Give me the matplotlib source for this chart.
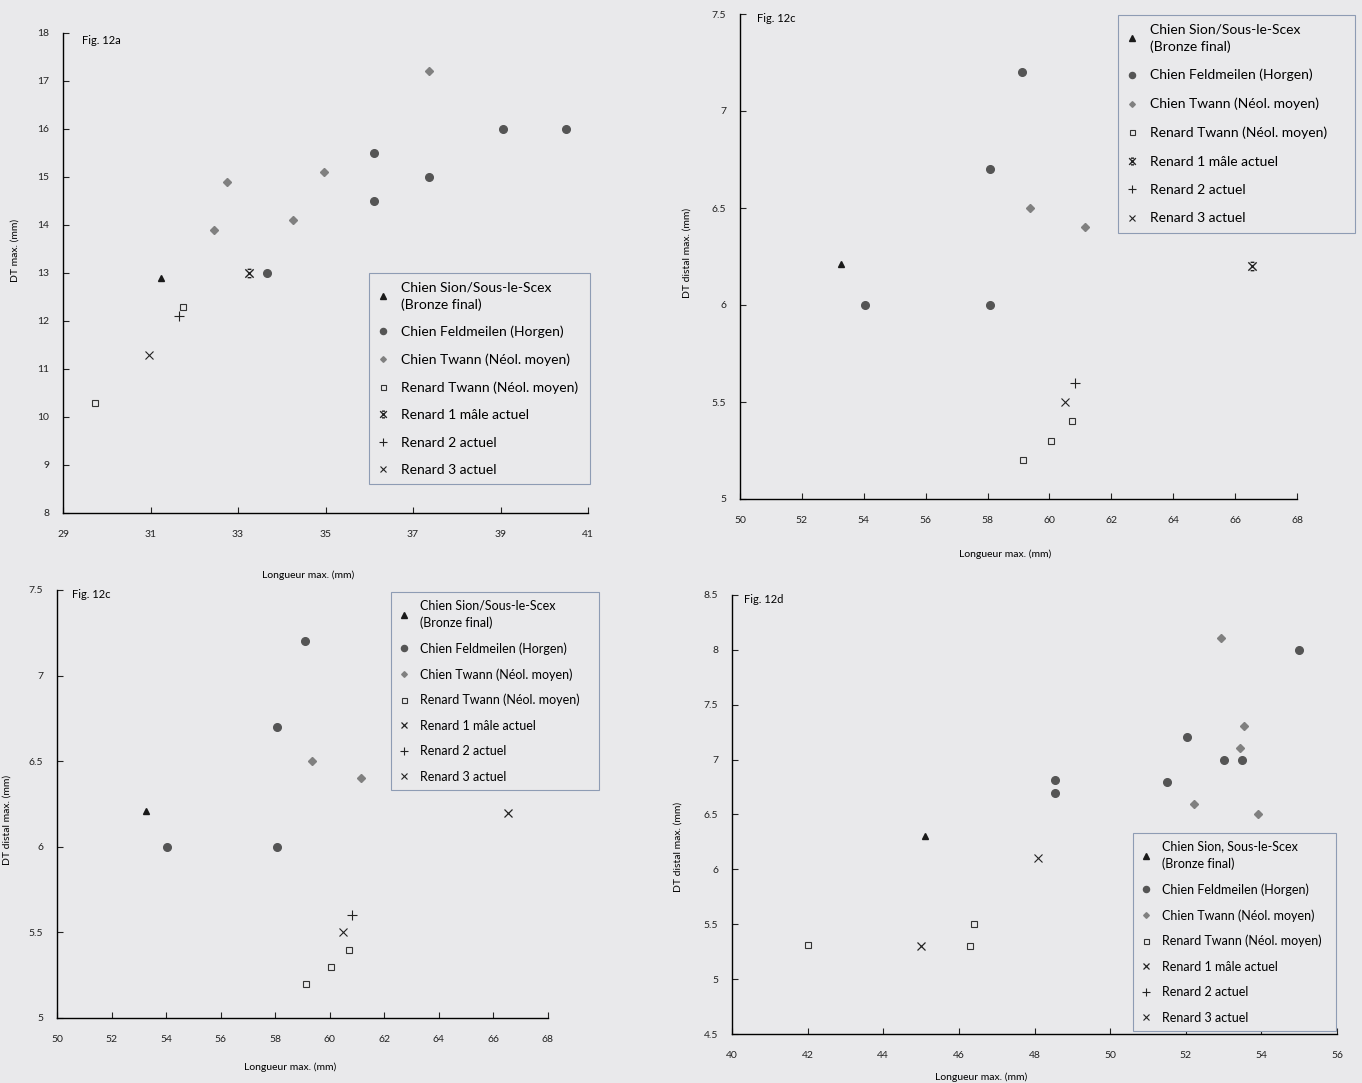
import numpy as np
import matplotlib
matplotlib.use("Agg")
import matplotlib.pyplot as plt
from matplotlib.path import Path

plt.rcParams['font.family'] = ['Lato', 'DejaVu Sans']

# --- Fig. 12a : Longueur max. / DT max.
a_sion_x, a_sion_y = [31.25], [12.9]
a_feld_x = [33.67, 36.1, 36.1, 37.37, 39.05, 40.5]
a_feld_y = [13.0, 15.5, 14.5, 15.0, 16.0, 16.0]
a_twann_x = [32.46, 32.75, 34.26, 34.96, 37.37]
a_twann_y = [13.9, 14.9, 14.1, 15.1, 17.2]
a_renT_x, a_renT_y = [29.74, 31.75], [10.3, 12.3]
a_ren1_x, a_ren1_y = [33.25], [13.0]
a_ren2_x, a_ren2_y = [31.65], [12.1]
a_ren3_x, a_ren3_y = [30.96], [11.3]

# --- Fig. 12c : Longueur max. / DT distal max. (shown twice on the page)
c_sion_x, c_sion_y = [53.25], [6.21]
c_feld_x = [54.05, 58.08, 58.08, 59.1]
c_feld_y = [6.0, 6.0, 6.7, 7.2]
c_twann_x, c_twann_y = [59.36, 61.14], [6.5, 6.4]
c_renT_x, c_renT_y = [59.13, 60.05, 60.72], [5.2, 5.3, 5.4]
c_ren1_x, c_ren1_y = [66.55], [6.2]
c_ren2_x, c_ren2_y = [60.83], [5.6]
c_ren3_x, c_ren3_y = [60.5], [5.5]

# --- Fig. 12d
d_sion_x, d_sion_y = [45.1], [6.3]
d_feld_x = [48.53, 48.53, 51.5, 52.02, 53.0, 53.5, 55.0]
d_feld_y = [6.81, 6.70, 6.8, 7.21, 7.0, 7.0, 8.0]
d_twann_x = [52.94, 53.53, 53.43, 52.22, 53.9]
d_twann_y = [8.11, 7.31, 7.11, 6.60, 6.5]
d_renT_x, d_renT_y = [42.0, 46.3, 46.4], [5.31, 5.3, 5.5]
d_ren1_x, d_ren1_y = [45.0], [5.3]
d_ren2_x, d_ren2_y = [], []
d_ren3_x, d_ren3_y = [48.1], [6.1]

labels = ["Chien Sion/Sous-le-Scex\n(Bronze final)", "Chien Feldmeilen (Horgen)",
          "Chien Twann (Néol. moyen)", "Renard Twann (Néol. moyen)",
          "Renard 1 mâle actuel", "Renard 2 actuel", "Renard 3 actuel"]
labels_d = ["Chien Sion, Sous-le-Scex\n(Bronze final)"] + labels[1:]

BG = '#e9e9eb'
W, H = 1362, 1083
fig = plt.figure(figsize=(W / 100, H / 100), dpi=100, facecolor=BG)

# x with small top/bottom bars (Renard 1 marker)
star = Path([(-1, -1), (1, 1), (-1, 1), (1, -1), (-0.45, 1), (0.45, 1), (-0.45, -1), (0.45, -1)],
            [Path.MOVETO, Path.LINETO] * 4)


def make_ax(l, t, r, b):
    ax = fig.add_axes([l / W, 1 - b / H, (r - l) / W, (b - t) / H])
    ax.set_facecolor(BG)
    for s in ['top', 'right']:
        ax.spines[s].set_visible(False)
    for s in ['left', 'bottom']:
        ax.spines[s].set_linewidth(1.0)
    ax.tick_params(direction='in', length=4, width=0.8, labelsize=7.5, colors='#222')
    ax.tick_params(axis='x', pad=12)
    ax.tick_params(axis='y', pad=10)
    return ax


def draw(ax, d, ren1_marker):
    (sx, sy), (fx, fy), (tx, ty), (rx, ry), (r1x, r1y), (r2x, r2y), (r3x, r3y) = d
    h = []
    h += ax.plot(sx, sy, '^', ms=5, color='#1a1a1a', ls='none')
    h += ax.plot(fx, fy, 'o', ms=5.5, color='#555555', ls='none')
    h += ax.plot(tx, ty, 'D', ms=3.6, color='#808080', ls='none')
    h += ax.plot(rx, ry, 's', ms=4.5, mfc='none', mec='#333333', mew=0.8, ls='none')
    if ren1_marker == 'star':
        h += ax.plot(r1x, r1y, marker=star, ms=6, mfc='none', mec='#222', mew=1.0, ls='none')
    else:
        h += ax.plot(r1x, r1y, 'x', ms=6, mec='#222', mew=0.9, ls='none')
    h += ax.plot(r2x, r2y, '+', ms=7, mec='#222', mew=0.8, ls='none')
    h += ax.plot(r3x, r3y, 'x', ms=6, mec='#222', mew=0.8, ls='none')
    return h


def legend(ax, h, lab, box, fs, sp):
    l, t, r, b = box
    leg = ax.legend(h, lab, loc='upper left', mode='expand',
                    bbox_to_anchor=(l / W, 1 - t / H, (r - l) / W, 1e-4),
                    bbox_transform=fig.transFigure, fontsize=fs, labelspacing=sp,
                    handlelength=0.8, handletextpad=0.9, borderpad=0.6, markerscale=0.8,
                    fancybox=False, framealpha=1, facecolor=BG, edgecolor='#8e9cb4',
                    borderaxespad=0)
    leg.get_frame().set_linewidth(0.8)
    for t in leg.get_texts():
        t.set_linespacing(1.45)


def fmt(v):
    return ('%g' % v)


# Panel a
ax = make_ax(63, 33, 588, 513)
ha = draw(ax, [(a_sion_x, a_sion_y), (a_feld_x, a_feld_y), (a_twann_x, a_twann_y),
               (a_renT_x, a_renT_y), (a_ren1_x, a_ren1_y), (a_ren2_x, a_ren2_y),
               (a_ren3_x, a_ren3_y)], 'star')
ax.set_xlim(29, 41)
ax.set_ylim(8, 18)
ax.set_xticks(np.arange(29, 42, 2))
ax.set_yticks(np.arange(8, 19, 1))
ax.set_ylabel('DT max. (mm)', fontsize=7.5)
ax.yaxis.set_label_coords(-0.083, 0.548)
ax.set_xlabel('Longueur max. (mm)', fontsize=7.5)
ax.xaxis.set_label_coords(0.467, -0.12)
ax.text(0.036, 0.985, 'Fig. 12a', transform=ax.transAxes, fontsize=8, va='center')
legend(ax, ha, labels, (369, 273, 590, 481), 10, 1.1)

# Panel b (Fig. 12c, top right)
c_data = [(c_sion_x, c_sion_y), (c_feld_x, c_feld_y), (c_twann_x, c_twann_y),
          (c_renT_x, c_renT_y), (c_ren1_x, c_ren1_y), (c_ren2_x, c_ren2_y),
          (c_ren3_x, c_ren3_y)]
ax = make_ax(740, 14, 1297, 499)
hb = draw(ax, c_data, 'star')
ax.set_xlim(50, 68)
ax.set_ylim(5, 7.5)
ax.set_xticks(np.arange(50, 69, 2))
ax.set_yticks(np.arange(5, 7.51, 0.5))
ax.set_yticklabels([fmt(v) for v in np.arange(5, 7.51, 0.5)])
ax.set_ylabel('DT distal max. (mm)', fontsize=7.5)
ax.yaxis.set_label_coords(-0.087, 0.508)
ax.set_xlabel('Longueur max. (mm)', fontsize=7.5)
ax.xaxis.set_label_coords(0.476, -0.105)
ax.text(0.03, 0.99, 'Fig. 12c', transform=ax.transAxes, fontsize=8, va='center')
legend(ax, hb, labels, (1118, 15, 1355, 231), 10, 1.18)

# Panel c (Fig. 12c, bottom left)
ax = make_ax(57, 590, 548, 1018)
hc = draw(ax, c_data, 'x')
ax.set_xlim(50, 68)
ax.set_ylim(5, 7.5)
ax.set_xticks(np.arange(50, 69, 2))
ax.set_yticks(np.arange(5, 7.51, 0.5))
ax.set_yticklabels([fmt(v) for v in np.arange(5, 7.51, 0.5)])
ax.set_ylabel('DT distal max. (mm)', fontsize=7.5)
ax.yaxis.set_label_coords(-0.092, 0.462)
ax.set_xlabel('Longueur max. (mm)', fontsize=7.5)
ax.xaxis.set_label_coords(0.474, -0.105)
ax.text(0.03, 0.99, 'Fig. 12c', transform=ax.transAxes, fontsize=8, va='center')
legend(ax, hc, labels, (391, 592, 599, 782), 9, 1.07)

# Panel d
ax = make_ax(732, 595, 1337, 1034)
hd = draw(ax, [(d_sion_x, d_sion_y), (d_feld_x, d_feld_y), (d_twann_x, d_twann_y),
               (d_renT_x, d_renT_y), (d_ren1_x, d_ren1_y), (d_ren2_x, d_ren2_y),
               (d_ren3_x, d_ren3_y)], 'x')
ax.set_xlim(40, 56)
ax.set_ylim(4.5, 8.5)
ax.set_xticks(np.arange(40, 57, 2))
ax.set_yticks(np.arange(4.5, 8.51, 0.5))
ax.set_yticklabels([fmt(v) for v in np.arange(4.5, 8.51, 0.5)])
ax.set_ylabel('DT distal max. (mm)', fontsize=7.5)
ax.yaxis.set_label_coords(-0.082, 0.426)
ax.set_xlabel('Longueur max. (mm)', fontsize=7.5)
ax.xaxis.set_label_coords(0.412, -0.088)
ax.text(0.02, 0.99, 'Fig. 12d', transform=ax.transAxes, fontsize=8, va='center')
legend(ax, hd, labels_d, (1133, 833, 1336, 1023), 9, 1.07)

fig.savefig('out.png', dpi=100, facecolor=BG)
